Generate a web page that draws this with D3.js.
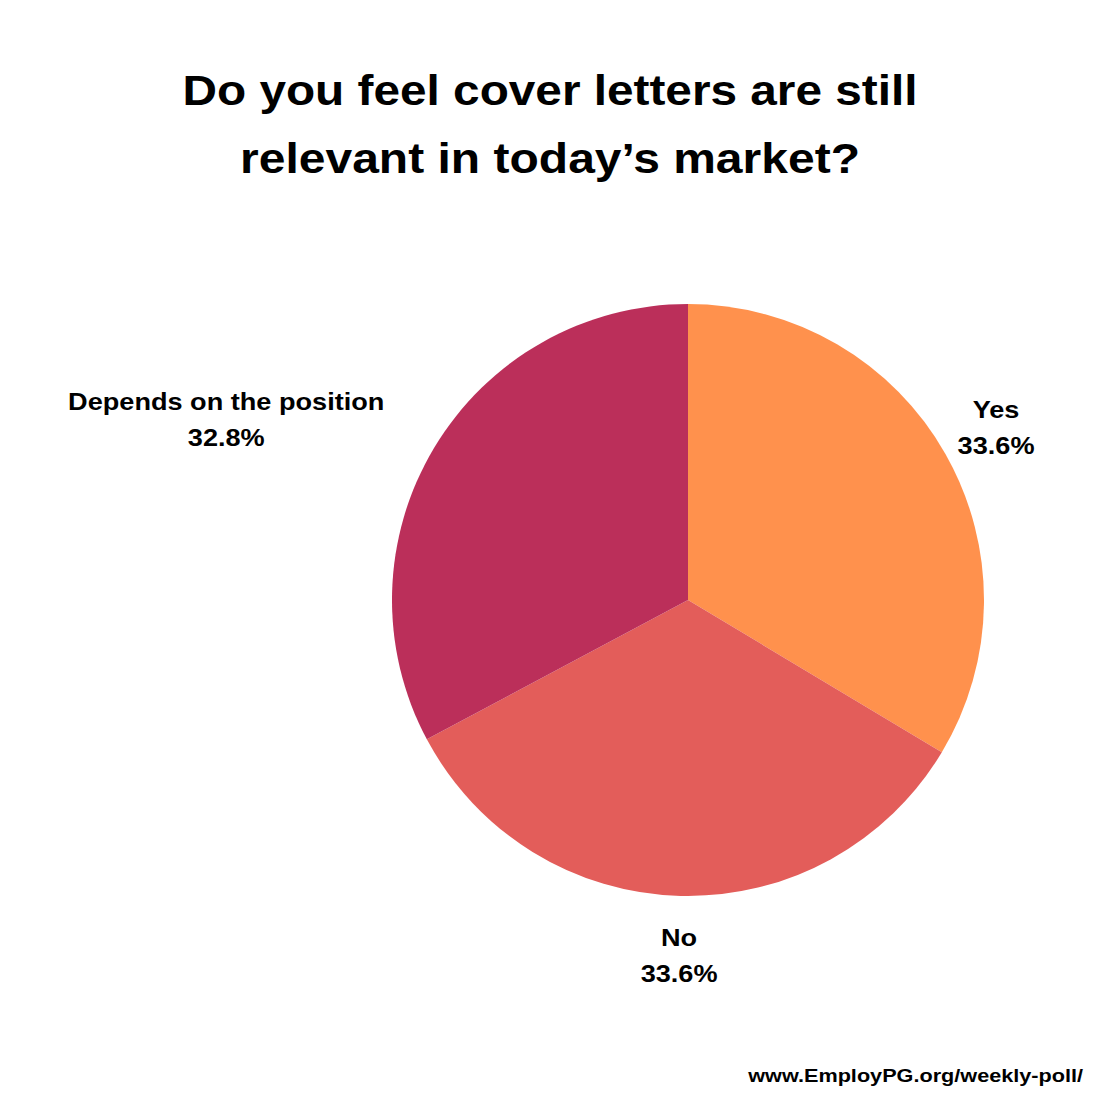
<!DOCTYPE html>
<html><head><meta charset="utf-8">
<script src="https://cdn.jsdelivr.net/npm/d3@7"></script>
<style>body{margin:0;background:#fff}svg{display:block}</style>
</head><body>
<svg id="chart" width="1100" height="1100"></svg>
<script>
const titleLines = ["Do you feel cover letters are still", "relevant in today\u2019s market?"];
const categories = ["Yes", "No", "Depends on the position"];
const values = [33.6, 33.6, 32.8];
const colors = ["#FF914D", "#E35D5A", "#BB2F5A"];
const footer = "www.EmployPG.org/weekly-poll/";

const svg = d3.select("#chart");
svg.append("rect").attr("width",1100).attr("height",1100).attr("fill","#fff");

const font = "'Liberation Sans', Arial, sans-serif";
const tW = [735, 620];
titleLines.forEach((t,i)=>{
  svg.append("text").attr("x",550).attr("y",105+i*68)
    .attr("text-anchor","middle").attr("font-family",font).attr("font-weight","bold")
    .attr("font-size",43).attr("fill","#000")
    .attr("textLength",tW[i]).attr("lengthAdjust","spacingAndGlyphs").text(t);
});

const cx = 688, cy = 600, R = 296;
const SX = 1.13;
const data = categories.map((c,i)=>({cat:c, val:values[i], color:colors[i]}));
const pie = d3.pie().value(d=>d.val).sort(null);
const arc = d3.arc().innerRadius(0).outerRadius(R);
const labelArc = d3.arc().innerRadius(354).outerRadius(354);
const g = svg.append("g").attr("transform",`translate(${cx},${cy})`);
const arcs = pie(data);
g.selectAll("path").data(arcs).join("path").attr("d",arc).attr("fill",d=>d.data.color);

arcs.forEach(a=>{
  const [x,y] = labelArc.centroid(a);
  const endAnchor = x < -200;
  const t = g.append("text").attr("font-family",font).attr("font-weight","bold")
    .attr("font-size",24).attr("fill","#000").attr("text-anchor","middle");
  t.append("tspan").attr("x",0).attr("y",-8).text(a.data.cat);
  t.append("tspan").attr("x",0).attr("y",28).text(a.data.val.toFixed(1)+"%");
  let tx = x;
  if (endAnchor) { const w = t.node().getBBox().width*SX; tx = x - w/2; }
  t.attr("transform",`translate(${tx},${y}) scale(${SX},1)`);
});

svg.append("text").attr("transform","translate(1083,1082) scale(1.14,1)").attr("text-anchor","end")
  .attr("font-family",font).attr("font-weight","bold").attr("font-size",19)
  .attr("fill","#000").text(footer);
</script>
</body></html>
